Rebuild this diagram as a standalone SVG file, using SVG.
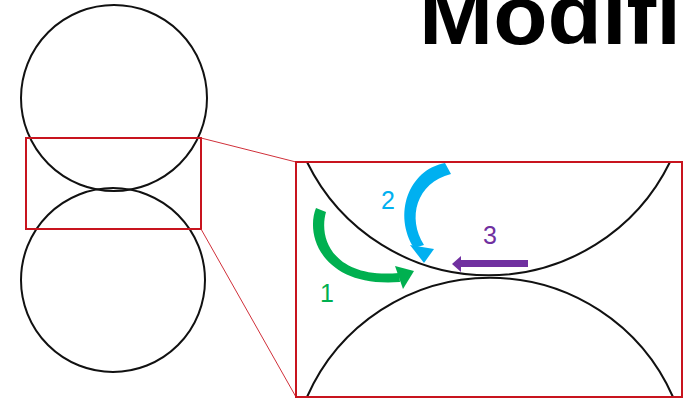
<svg xmlns="http://www.w3.org/2000/svg" width="683" height="404" viewBox="0 0 683 404">
<style>
.circ{fill:none;stroke:#111;stroke-width:2}
.box{fill:none;stroke:#C8141E;stroke-width:2}
.link{stroke:#D0303A;stroke-width:1;fill:none}
.num{font-family:"Liberation Sans",Arial,sans-serif;font-size:25px;text-anchor:middle}
</style>
<rect width="683" height="404" fill="#fff"/>
<g id="title">
<text x="419" y="44" font-family="'Liberation Sans',Arial,sans-serif" font-weight="bold" font-size="84" textLength="262" lengthAdjust="spacingAndGlyphs" fill="#000">Modifi</text>
</g>
<g id="top-circle"><circle class="circ" cx="114" cy="98" r="93"/></g>
<g id="bottom-circle"><circle class="circ" cx="113" cy="280" r="92"/></g>
<g id="zoom-box"><rect class="box" x="26" y="138" width="175" height="91"/></g>
<g id="connectors">
<line class="link" x1="201" y1="138" x2="296" y2="162"/>
<line class="link" x1="201" y1="229" x2="296" y2="397"/>
</g>
<g id="detail">
<path class="circ" d="M307 162 A202 202 0 0 0 670 162"/>
<path class="circ" d="M307 397 A200 200 0 0 1 673 397"/>
<rect class="box" x="296" y="162" width="386" height="235"/>
</g>
<g id="arrow-1" fill="#00B050">
<path d="M316 208 C305 235 322 288 400 282 L399 273 C335 279 318 240 326 212 Z"/>
<polygon points="395,266 414,271 403,289"/>
<text class="num" x="327" y="302">1</text>
</g>
<g id="arrow-2" fill="#00B0F0">
<path d="M445 163 C408 170 393 215 414 248 L424 245 C407 218 416 183 451 174 Z"/>
<polygon points="410,245 434,249 424,263"/>
<text class="num" x="388" y="209">2</text>
</g>
<g id="arrow-3" fill="#7030A0">
<rect x="459" y="260" width="69" height="7"/>
<polygon points="452,264 461,256 461,272"/>
<text class="num" x="490" y="244">3</text>
</g>
</svg>
